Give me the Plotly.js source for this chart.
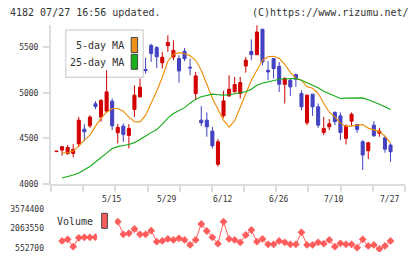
<!DOCTYPE html>
<html>
<head>
<meta charset="utf-8">
<script src="https://cdn.plot.ly/plotly-3.0.1.min.js"></script>
<style>
  html, body { margin: 0; padding: 0; background: #fff; }
  #chart { width: 420px; height: 259px; }
</style>
</head>
<body>
<div id="chart"></div>
<script>
// Daily prices (61 sessions, oldest first)
const openP  = [4355,4372,4336,4336,4441,4602,4638,4880,4734,4799,
                4909,4562,4635,4533,4818,4956,5256,5522,5497,5330,
                5517,5394,5376,5456,5281,4993,4701,4701,4580,4216,
                4748,4967,5013,4993,5295,5456,5420,5697,5248,5376,
                5292,5094,5139,5201,4993,4671,4986,4847,4565,4628,
                4785,4748,4500,4690,4653,4463,4365,4646,4558,4507,4427];
const highP  = [4362,4412,4427,4438,4737,4657,4756,4909,4931,5248,
                4938,4660,4664,4657,5084,5157,5387,5540,5514,5449,
                5632,5577,5413,5493,5376,5230,4854,4785,4627,4493,
                5022,5194,5175,5175,5394,5588,5741,5705,5347,5383,
                5339,5175,5157,5212,5029,4982,4986,4884,4737,4712,
                4799,4785,4653,4785,4653,4482,4463,4690,4617,4526,4446];
const lowP   = [4352,4310,4320,4292,4408,4471,4616,4821,4682,4792,
                4591,4445,4463,4391,4737,4953,5212,5340,5275,5267,
                5449,5358,5113,5347,5193,4920,4635,4518,4391,4189,
                4727,4956,5004,4938,5223,5358,5413,5300,5139,5157,
                5011,4884,4967,5066,4810,4646,4748,4617,4536,4591,
                4646,4482,4434,4638,4562,4153,4274,4518,4518,4343,4244];
const closeP = [4360,4409,4402,4380,4700,4573,4734,4851,4917,5011,
                4638,4621,4544,4610,4975,5062,5245,5431,5396,5391,
                5552,5467,5241,5376,5274,5186,4672,4628,4419,4463,
                4912,5040,5092,5113,5358,5420,5668,5339,5230,5267,
                5095,5157,5066,5150,4847,4975,4847,4646,4610,4660,
                4684,4566,4635,4766,4599,4318,4452,4529,4580,4382,4354];

// Moving averages (start from the second session)
const ma5  = [null,4343,4345,4361,4416,4482,4537,4635,4723,4788,
              4829,4829,4799,4734,4684,4682,4756,4887,5018,5172,
              5347,5424,5442,5429,5407,5358,5248,5095,4942,4821,
              4701,4624,4695,4843,4996,5139,5248,5358,5396,5402,
              5380,5314,5226,5161,5139,5068,5051,4996,4887,4788,
              4737,4668,4635,4635,4646,4652,4613,4591,4575,4526,4452];
const ma25 = [null,4066,4080,4099,4120,4153,4192,4241,4285,4339,
              4389,4410,4422,4433,4454,4487,4526,4564,4597,4657,
              4723,4774,4810,4838,4887,4931,4958,4975,4986,4980,
              4975,4980,4991,4996,5013,5040,5084,5106,5122,5139,
              5150,5155,5157,5157,5139,5114,5084,5057,5018,4991,
              4964,4938,4942,4945,4945,4945,4925,4903,4876,4849,4818];

// Daily volume (shares)
const volume = [null,1116000,1244000,681000,1360000,1400000,1390000,1410000,1900000,3100000,
                2600000,2601000,1628000,1705000,2038000,1628000,1628000,1910000,1065000,1116000,
                1270000,1193000,1321000,1193000,809000,1193000,2422000,1884000,1398000,911000,
                2601000,1270000,1193000,1014000,1577000,1961000,1065000,1270000,860000,860000,
                1116000,1014000,860000,860000,1782000,809000,809000,1014000,911000,1193000,
                681000,937000,860000,860000,604000,1244000,732000,809000,501000,732000,1116000];

// Axis labels
const dateLabels   = ['5/15','5/29','6/12','6/26','7/10','7/27'];
const dateLabelPos = [10.8, 20.8, 30.75, 40.8, 50.7, 60.9];
const priceTicks   = [4000, 4500, 5000, 5500];
const volumeTicks  = [552700, 2063550, 3574400];
const volumeTickText = ['552700', '2063550', '3574400'];

const day = openP.map((_, i) => i + 1);

// page-pixel to paper helpers
const W = 420, H = 259;
const px = x => x / W;
const py = y => 1 - y / H;

const MONO = 'DejaVu Sans Mono';
const TXT = '#333333';
const AXIS = '#dcdcdc';
const RED = '#d20000';
const BLUE = '#4242c2';
const ORANGE = '#f08a00';
const GREEN = '#14aa14';
const VOLC = '#ff5c5c';

const xRange = [0.01, 63.6];
const gridTicks = [];
for (let k = 0; k <= 11; k++) gridTicks.push(xRange[0] + k * (xRange[1] - xRange[0]) / 11);

const traces = [
  {
    type: 'candlestick', x: day,
    open: openP, high: highP, low: lowP, close: closeP,
    increasing: { line: { color: RED, width: 1 }, fillcolor: RED },
    decreasing: { line: { color: BLUE, width: 1 }, fillcolor: BLUE },
    whiskerwidth: 0, showlegend: false, hoverinfo: 'skip',
    xaxis: 'x', yaxis: 'y'
  },
  {
    type: 'scatter', mode: 'lines', x: day, y: ma5,
    line: { color: ORANGE, width: 1.1 }, showlegend: false, hoverinfo: 'skip',
    xaxis: 'x', yaxis: 'y'
  },
  {
    type: 'scatter', mode: 'lines', x: day, y: ma25,
    line: { color: GREEN, width: 1.1 }, showlegend: false, hoverinfo: 'skip',
    xaxis: 'x', yaxis: 'y'
  },
  {
    type: 'scatter', mode: 'lines+markers', x: day, y: volume,
    line: { color: VOLC, width: 1 },
    marker: { symbol: 'diamond', size: 6, color: VOLC },
    showlegend: false, hoverinfo: 'skip',
    xaxis: 'x2', yaxis: 'y2'
  }
];

const annotations = [
  { text: '4182 07/27 16:56 updated.', xref: 'paper', yref: 'paper', x: px(8), y: py(12.5),
    xanchor: 'left', yanchor: 'middle', showarrow: false, font: { family: MONO, size: 10, color: TXT } },
  { text: '(C)https://www.rizumu.net/', xref: 'paper', yref: 'paper', x: px(410.5), y: py(12.5),
    xanchor: 'right', yanchor: 'middle', showarrow: false, font: { family: MONO, size: 10, color: TXT } },
  { text: '5-day MA', xref: 'paper', yref: 'paper', x: px(125.5), y: py(45.5),
    xanchor: 'right', yanchor: 'middle', showarrow: false, font: { family: MONO, size: 10, color: TXT } },
  { text: '25-day MA', xref: 'paper', yref: 'paper', x: px(125.5), y: py(63),
    xanchor: 'right', yanchor: 'middle', showarrow: false, font: { family: MONO, size: 10, color: TXT } },
  { text: 'Volume', xref: 'paper', yref: 'paper', x: px(95), y: py(221.5),
    xanchor: 'right', yanchor: 'middle', showarrow: false, font: { family: MONO, size: 10, color: TXT } }
];
dateLabels.forEach((t, i) => {
  annotations.push({ text: t, xref: 'x', yref: 'paper', x: dateLabelPos[i], y: py(199),
    xanchor: 'center', yanchor: 'middle', showarrow: false, font: { family: MONO, size: 8, color: TXT } });
});

const shapes = [
  // price legend frame
  { type: 'rect', xref: 'paper', yref: 'paper', layer: 'below',
    x0: px(65.7), x1: px(143.3), y0: py(77.3), y1: py(30),
    line: { color: '#d8d8d8', width: 1.5 }, fillcolor: '#ffffff' },
  { type: 'rect', xref: 'paper', yref: 'paper', layer: 'above',
    x0: px(131.2), x1: px(137.6), y0: py(52.5), y1: py(37.5),
    line: { color: '#444444', width: 1 }, fillcolor: '#f0901c' },
  { type: 'rect', xref: 'paper', yref: 'paper', layer: 'above',
    x0: px(131.2), x1: px(137.6), y0: py(69.3), y1: py(54.3),
    line: { color: '#444444', width: 1 }, fillcolor: '#18b018' },
  // volume legend
  { type: 'rect', xref: 'paper', yref: 'paper', layer: 'above',
    x0: px(97), x1: px(115), y0: py(250), y1: py(205),
    line: { width: 0 }, fillcolor: '#ffffff' },
  { type: 'rect', xref: 'paper', yref: 'paper', layer: 'above',
    x0: px(101.7), x1: px(107.4), y0: py(228.3), y1: py(213.3),
    line: { color: '#444444', width: 1 }, fillcolor: VOLC }
];

const layout = {
  width: W, height: H,
  margin: { l: 0, r: 0, t: 0, b: 0, pad: 0 },
  paper_bgcolor: '#ffffff', plot_bgcolor: '#ffffff',
  showlegend: false,
  boxgap: 0.22,
  xaxis: {
    domain: [px(51), px(405)], range: xRange, anchor: 'y',
    rangeslider: { visible: false },
    tickmode: 'array', tickvals: gridTicks, ticktext: gridTicks.map(() => ''),
    ticks: 'outside', ticklen: 6, tickwidth: 2, tickcolor: AXIS,
    showline: true, linecolor: AXIS, linewidth: 2,
    showgrid: false, zeroline: false, fixedrange: true
  },
  yaxis: {
    domain: [py(184), py(25)], range: [4000, 5745], anchor: 'x',
    tickmode: 'array', tickvals: priceTicks, ticktext: priceTicks.map(String),
    ticks: 'outside', ticklen: 6, tickwidth: 2, tickcolor: AXIS,
    ticklabelstandoff: 3,
    showline: true, linecolor: AXIS, linewidth: 2,
    showgrid: false, zeroline: false,
    tickfont: { family: MONO, size: 8, color: TXT }
  },
  xaxis2: {
    domain: [px(51), px(405)], range: xRange, anchor: 'y2',
    visible: false, showgrid: false, zeroline: false
  },
  yaxis2: {
    domain: [py(252), py(205)], range: [268000, 3882000], anchor: 'x2',
    tickmode: 'array', tickvals: volumeTicks, ticktext: volumeTickText,
    ticks: '', showline: false, showgrid: false, zeroline: false,
    ticklabelstandoff: 6,
    tickfont: { family: MONO, size: 8, color: TXT }
  },
  annotations: annotations,
  shapes: shapes
};

Plotly.newPlot('chart', traces, layout, { staticPlot: true, displayModeBar: false });
</script>
</body>
</html>
